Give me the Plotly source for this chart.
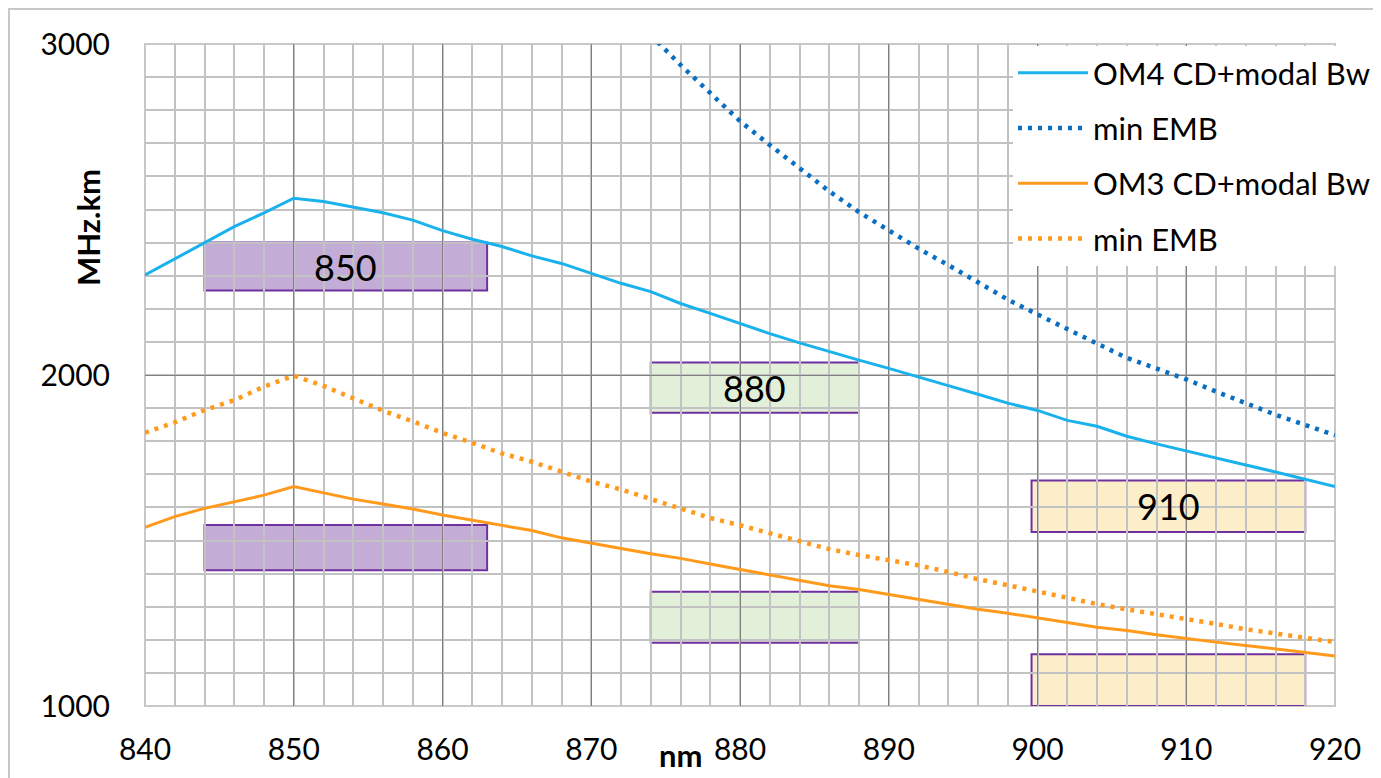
import plotly.graph_objects as go

# ---- data ----
wl = list(range(840, 921, 2))
om4_bw = [2302, 2350, 2400, 2448, 2490, 2534, 2524, 2508, 2490, 2468, 2436, 2410, 2388, 2360,
          2337, 2307, 2277, 2252, 2216, 2186, 2155, 2125, 2097, 2070, 2045, 2020, 1995, 1968,
          1942, 1915, 1893, 1863, 1845, 1815, 1792, 1770, 1748, 1728, 1707, 1685, 1663]
om3_bw = [1540, 1572, 1597, 1617, 1637, 1663, 1644, 1625, 1610, 1595, 1577, 1562, 1545, 1530,
          1508, 1491, 1476, 1460, 1446, 1429, 1413, 1396, 1380, 1363, 1352, 1337, 1321, 1305,
          1292, 1280, 1265, 1252, 1238, 1228, 1215, 1203, 1193, 1183, 1173, 1163, 1151]
om3_emb = [1826, 1857, 1894, 1924, 1965, 1998, 1967, 1930, 1892, 1860, 1825, 1795, 1763, 1738,
           1708, 1678, 1654, 1625, 1597, 1568, 1546, 1521, 1498, 1474, 1456, 1440, 1425, 1405,
           1383, 1365, 1346, 1326, 1308, 1292, 1278, 1262, 1248, 1232, 1220, 1205, 1193]
wl_om4_emb = list(range(874, 921, 2))
om4_emb = [3027, 2937, 2852, 2767, 2695, 2626, 2555, 2492, 2437, 2382, 2332, 2281, 2228, 2183,
           2138, 2095, 2052, 2020, 1987, 1950, 1914, 1880, 1849, 1818]

series_names = ["OM4 CD+modal Bw", "min EMB", "OM3 CD+modal Bw", "min EMB"]

# boxes: x0, x1, y0, y1, label
box_x0 = [844, 844, 874, 874, 899.6, 899.6]
box_x1 = [863, 863, 888, 888, 918, 918]
box_y0 = [2255, 1410, 1886, 1191, 1526, 1000]
box_y1 = [2400, 1547, 2038, 1345, 1681, 1156]
box_label = ["850", "", "880", "", "910", ""]
box_fill = ["rgba(112,60,160,0.42)", "rgba(112,60,160,0.42)",
            "rgba(150,200,120,0.28)", "rgba(150,200,120,0.28)",
            "rgba(250,200,80,0.30)", "rgba(250,200,80,0.30)"]

x_ticks = list(range(840, 921, 10))
y_ticks = [1000, 2000, 3000]

FONT = "Lato"
BLUE = "#1ab2ec"
DBLUE = "#0a6fc2"
ORANGE = "#ff9a1c"

# figure geometry (page has an 8px body margin)
W, H = 1373, 770
ML, MR, MT, MB = 137, 46, 36, 72
PW, PH = W - ML - MR, H - MT - MB


def px(xp):
    return (xp - 8 - ML) / PW


def py(yp):
    return (MT + PH - (yp - 8)) / PH


fig = go.Figure()
fig.add_trace(go.Scatter(x=wl, y=om4_bw, mode="lines", name=series_names[0], legendgroup="a",
                         line=dict(color=BLUE, width=3)))
fig.add_trace(go.Scatter(x=wl_om4_emb, y=om4_emb, mode="lines", name=series_names[1], legendgroup="b",
                         line=dict(color=DBLUE, width=4.5, dash="4px,6px")))
fig.add_trace(go.Scatter(x=wl, y=om3_bw, mode="lines", name=series_names[2], legendgroup="c",
                         line=dict(color=ORANGE, width=3)))
fig.add_trace(go.Scatter(x=wl, y=om3_emb, mode="lines", name=series_names[3], legendgroup="d",
                         line=dict(color=ORANGE, width=4.5, dash="4px,6px")))

shapes = []
annotations = []
for i in range(len(box_x0)):
    shapes.append(dict(type="rect", xref="x", yref="y", x0=box_x0[i], x1=box_x1[i],
                       y0=box_y0[i], y1=box_y1[i], fillcolor=box_fill[i],
                       line=dict(color="#7030a0", width=2), layer="below"))
    if box_label[i]:
        annotations.append(dict(x=(box_x0[i] + box_x1[i]) / 2, y=(box_y0[i] + box_y1[i]) / 2,
                                xref="x", yref="y", text=box_label[i], showarrow=False,
                                xanchor="center", yanchor="middle",
                                font=dict(family=FONT, size=36, color="#000")))

# plot-area edge (light) and outer frame
shapes.append(dict(type="rect", xref="paper", yref="paper", x0=0, x1=1, y0=0, y1=1,
                   line=dict(color="#c8c8c8", width=2), fillcolor="rgba(0,0,0,0)", layer="below"))
shapes.append(dict(type="rect", xref="paper", yref="paper", x0=(1 - ML) / PW, x1=1.2,
                   y0=-0.3, y1=(MT + PH - 1) / PH, line=dict(color="#c8c8c8", width=2),
                   fillcolor="rgba(0,0,0,0)", layer="below"))

annotations.append(dict(x=px(88), y=py(228), xref="paper", yref="paper",
                        text="<b>MHz.km</b>", textangle=-90, showarrow=False,
                        xanchor="center", yanchor="middle",
                        font=dict(family=FONT, size=31, color="#000")))
annotations.append(dict(x=px(680), y=py(755), xref="paper", yref="paper",
                        text="<b>nm</b>", showarrow=False,
                        xanchor="center", yanchor="middle",
                        font=dict(family=FONT, size=31, color="#000")))

fig.update_layout(
    width=W, height=H, autosize=False,
    margin=dict(l=ML, r=MR, t=MT, b=MB, autoexpand=False),
    paper_bgcolor="white", plot_bgcolor="white",
    font=dict(family=FONT, size=30, color="#000"),
    shapes=shapes, annotations=annotations,
    legend=dict(x=px(1013), y=py(46), xanchor="left", yanchor="top",
                bgcolor="white", font=dict(family=FONT, size=31, color="#000"),
                itemwidth=70, traceorder="grouped", tracegroupgap=12),
)
fig.update_xaxes(range=[840, 920], tickvals=x_ticks, ticks="", showline=False, zeroline=False,
                 automargin=False,
                 showgrid=True, gridcolor="#808080", gridwidth=1.3,
                 minor=dict(dtick=2, tick0=840, showgrid=True, gridcolor="#c2c2c2", gridwidth=2),
                 ticklabelstandoff=23, tickfont=dict(family=FONT, size=30, color="#000"))
fig.update_yaxes(range=[1000, 3000], tickvals=y_ticks, ticks="", showline=False, zeroline=False,
                 automargin=False,
                 showgrid=True, gridcolor="#808080", gridwidth=1.3,
                 minor=dict(dtick=100, tick0=1000, showgrid=True, gridcolor="#c2c2c2", gridwidth=2),
                 ticklabelstandoff=34, tickfont=dict(family=FONT, size=30, color="#000"))

fig.write_html("out.html")
